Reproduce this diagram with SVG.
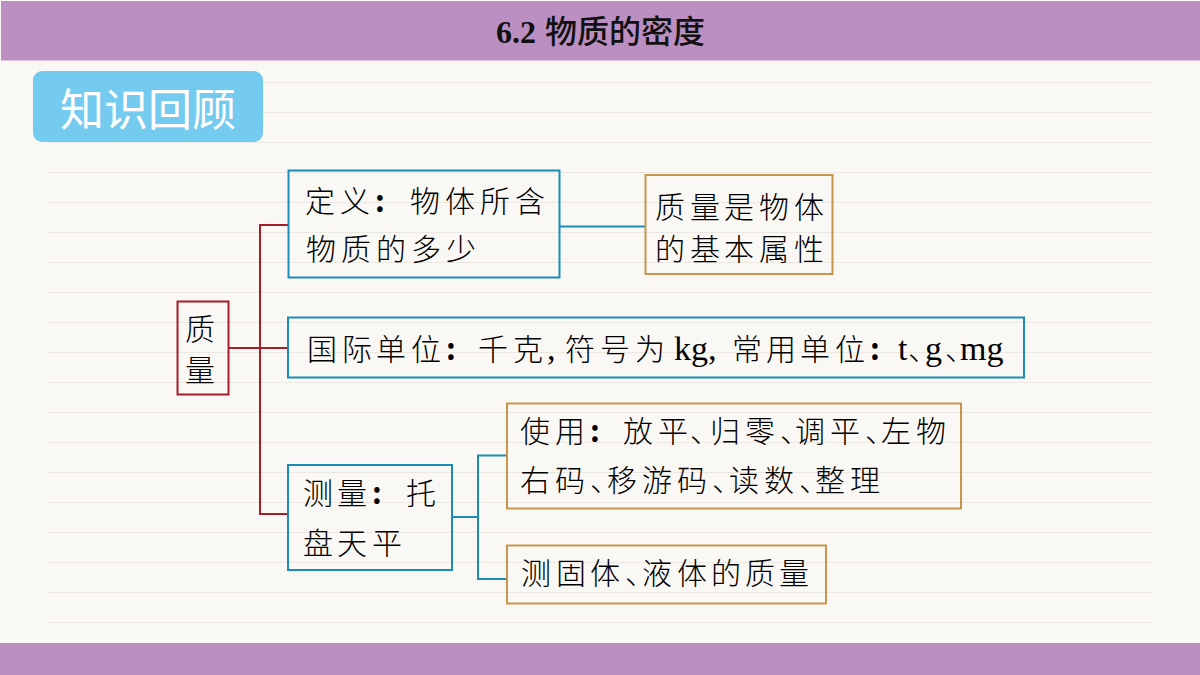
<svg xmlns="http://www.w3.org/2000/svg" width="1200" height="675" viewBox="0 0 1200 675">
<style>
.box{fill:none;stroke-width:2}
.b{stroke:#1b8cb8}.o{stroke:#c8954b}.r{stroke:#a51f2b}
.t{font-family:"Noto Sans CJK SC","Liberation Sans",sans-serif;font-size:30px;font-weight:300;fill:#000}
.l{font-family:"Liberation Serif",serif;font-size:34px;font-weight:400}
.c{font-weight:700}
.n{letter-spacing:-14px}
.rule{stroke:#ebe8e2;stroke-width:1}
.cb{fill:none;stroke:#1b8cb8;stroke-width:2}
.cr{fill:none;stroke:#a51f2b;stroke-width:2}
</style>
<rect width="1200" height="675" fill="#faf8f4"/>
<g id="rules">
<path class="rule" d="M48 82.500H1152M48 112.500H1152M48 142.500H1152M48 172.500H1152M48 202.500H1152M48 232.500H1152M48 262.500H1152M48 292.500H1152M48 322.500H1152M48 352.500H1152M48 382.500H1152M48 412.500H1152M48 442.500H1152M48 472.500H1152M48 502.500H1152M48 532.500H1152M48 562.500H1152M48 592.500H1152M48 622.500H1152"/>
</g>
<g id="header">
<rect x="1" y="1" width="1199" height="59.500" fill="#bb8fc1"/>
<text x="496" y="43" style="font-family:'Liberation Serif',serif;font-size:32px;font-weight:700;fill:#111">6.2</text>
<text x="545 577 609 641 673" y="43" style="font-family:'Noto Sans CJK SC',sans-serif;font-size:32px;font-weight:500;fill:#111">物质的密度</text>
</g>
<rect id="footer" x="0" y="643" width="1200" height="32" fill="#bb8fc1"/>
<g id="badge">
<rect x="33" y="71" width="230" height="71" rx="9" fill="#74cbef"/>
<text x="60 104 148 192" y="126" style="font-family:'Noto Sans CJK SC',sans-serif;font-size:44px;font-weight:400;fill:#fff">知识回顾</text>
</g>
<g id="connectors">
<path class="cr" d="M228 348H288M288 225H260V514H288"/>
<path class="cb" d="M559 226.500H645M452 517H478M507 455.500H478V579H507"/>
</g>
<g id="node-zhiliang">
<rect class="box r" x="177.500" y="301.500" width="51" height="93"/>
<text class="t" x="185" y="340">质</text>
<text class="t" x="185" y="381">量</text>
</g>
<g id="node-dingyi">
<rect class="box b" x="288.500" y="170.500" width="271" height="107"/>
<text class="t" y="212"><tspan x="305 340">定义</tspan><tspan class="c" x="375">:</tspan><tspan x="410 445 480 515">物体所含</tspan></text>
<text class="t" x="306 341 376 411 446" y="260">物质的多少</text>
</g>
<g id="node-shuxing">
<rect class="box o" x="645.500" y="175" width="187" height="99"/>
<text class="t" x="655 690 724 759 794" y="218">质量是物体</text>
<text class="t" x="655 690 724 759 794" y="260">的基本属性</text>
</g>
<g id="node-danwei">
<rect class="box b" x="288" y="317.500" width="736" height="60"/>
<text class="t" y="360"><tspan x="307 342 376 411">国际单位</tspan><tspan class="c" x="446">:</tspan><tspan x="478 513">千克</tspan><tspan class="l" x="547">,</tspan><tspan x="565 600 635">符号为</tspan><tspan class="l" x="674">kg,</tspan><tspan x="732 766 800 835">常用单位</tspan><tspan class="c" x="870">:</tspan><tspan class="l" x="898">t</tspan><tspan class="n" x="908">、</tspan><tspan class="l" x="925">g</tspan><tspan class="n" x="945">、</tspan><tspan class="l" x="960">mg</tspan></text>
</g>
<g id="node-celiang">
<rect class="box b" x="288" y="465" width="164" height="105"/>
<text class="t" y="504"><tspan x="303 337">测量</tspan><tspan class="c" x="372">:</tspan><tspan x="406">托</tspan></text>
<text class="t" x="303 337 372" y="554">盘天平</text>
</g>
<g id="node-shiyong">
<rect class="box o" x="507" y="403.500" width="454" height="105"/>
<text class="t" y="442"><tspan x="520 555">使用</tspan><tspan class="c" x="590">:</tspan><tspan x="623 658 690 710 745 780 795 830 865 881 916">放平、归零、调平、左物</tspan></text>
<text class="t" x="520 555 590 607 642 677 712 729 764 799 815 850" y="491">右码、移游码、读数、整理</text>
</g>
<g id="node-guti">
<rect class="box o" x="507" y="545.500" width="319" height="58"/>
<text class="t" x="521 556 590 625 642 677 711 745 779" y="584">测固体、液体的质量</text>
</g>
</svg>
